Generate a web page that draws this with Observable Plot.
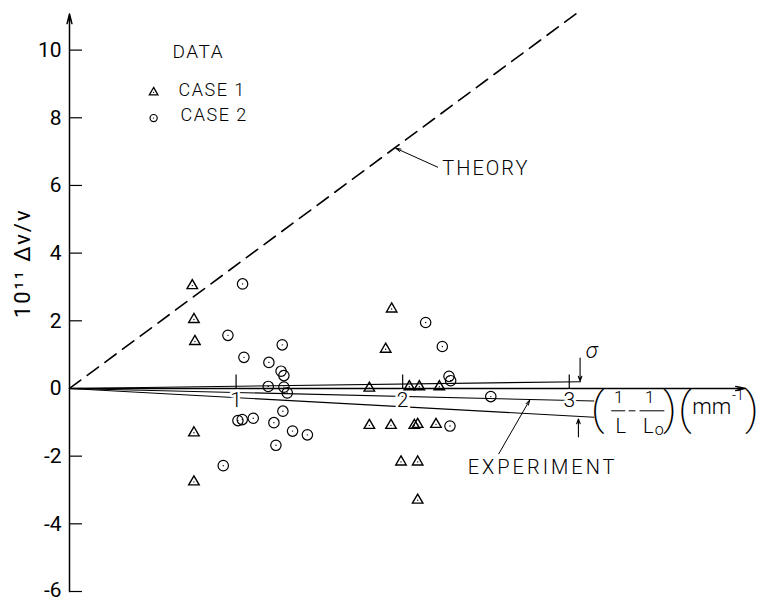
<!DOCTYPE html>
<html><head><meta charset="utf-8">
<script src="https://cdn.jsdelivr.net/npm/d3@7"></script>
<script src="https://cdn.jsdelivr.net/npm/@observablehq/plot@0.6"></script>
<style>body{margin:0;background:#fff}</style>
</head><body><div id="chart"></div>
<script>
// Case 1 (triangles)
const case1X = [0.737, 0.747, 0.753, 0.747, 0.747, 1.934, 1.898, 1.80, 2.04, 2.10, 2.22, 1.80, 1.93, 2.07, 2.09, 2.20, 1.99, 2.09, 2.09];
const case1Y = [3.04, 2.04, 1.39, -1.31, -2.76, 2.35, 1.16, 0.01, 0.05, 0.05, 0.05, -1.09, -1.09, -1.09, -1.06, -1.06, -2.17, -2.17, -3.30];
// Case 2 (circles)
const case2X = [1.039, 0.951, 1.277, 1.047, 1.197, 1.27, 1.287, 1.193, 1.287, 1.307, 1.281, 1.011, 1.037, 1.103, 1.227, 1.339, 1.428, 1.239, 0.923, 2.138, 2.238, 2.278, 2.288, 2.529, 2.284];
const case2Y = [3.09, 1.57, 1.29, 0.92, 0.77, 0.51, 0.38, 0.06, 0.04, -0.13, -0.67, -0.95, -0.92, -0.88, -1.01, -1.26, -1.37, -1.68, -2.28, 1.95, 1.24, 0.36, 0.23, -0.24, -1.11];
// Theory line (two end points)
const theoryX = [0, 3.04];
const theoryY = [0, 11.07];
// Experiment best fit and sigma band (end points; all start at the origin)
const fitNames = ["sigma upper", "experiment", "sigma lower"];
const fitEndX = [3.07, 3.15, 3.15];
const fitEndY = [0.2, -0.37, -0.85];
// Tick labels
const yTicks = [-6, -4, -2, 0, 2, 4, 6, 8, 10];
const xTicks = [1, 2, 3];
const xTickLabels = ["1", "2", "3"];

const case1 = case1X.map((x, i) => ({x, y: case1Y[i]}));
const case2 = case2X.map((x, i) => ({x, y: case2Y[i]}));
const theory = theoryX.map((x, i) => ({x, y: theoryY[i]}));
const fits = fitNames.map((name, i) => ({name, x: fitEndX[i], y: fitEndY[i]}));

const font = "Roboto, 'Open Sans', 'DejaVu Sans', sans-serif";

const chart = Plot.plot({
  width: 758, height: 601,
  marginLeft: 69, marginRight: 6, marginTop: 9, marginBottom: 10,
  x: {domain: [0, 4.1], axis: null},
  y: {domain: [-6, 11.2], axis: null},
  style: {fontFamily: font, fontWeight: 300, background: "white", color: "black", overflow: "visible"},
  marks: [
    // theory
    Plot.line(theory, {x: "x", y: "y", stroke: "black", strokeWidth: 1.6, strokeDasharray: "14,8"}),
    // experiment lines
    Plot.link(fits, {x1: 0, y1: 0, x2: "x", y2: "y", stroke: "black", strokeWidth: 1.1}),
    // axes
    Plot.arrow([0], {x1: 0, y1: -6, x2: 0, y2: 11.07, stroke: "black", strokeWidth: 1.5, headLength: 10, headAngle: 28}),
    Plot.arrow([0], {x1: 0, y1: 0, x2: 4.06, y2: 0, stroke: "black", strokeWidth: 1.3, headLength: 12, headAngle: 24}),
    Plot.ruleY(yTicks, {y: d => d, x1: 0, x2: 0.078, stroke: "black", strokeWidth: 1.2}),
    Plot.axisY(yTicks, {tickSize: 0, tickPadding: 8, fontSize: 21, fontWeight: 400, label: null, tickFormat: d => d < 0 ? "-" + (-d) : String(d)}),
    Plot.ruleX(xTicks, {x: d => d, y1: 0, y2: 0.4, stroke: "black", strokeWidth: 1.2}),
    Plot.text(xTicks, {x: d => d, y: -0.36, text: (d, i) => xTickLabels[i], fontSize: 21, fill: "black", stroke: "white", strokeWidth: 5}),
    // sigma markers
    Plot.arrow([0], {x1: 3.065, y1: 0.9, x2: 3.065, y2: 0.22, stroke: "black", strokeWidth: 1.1, headLength: 7, headAngle: 40}),
    Plot.arrow([0], {x1: 3.055, y1: -1.43, x2: 3.055, y2: -0.9, stroke: "black", strokeWidth: 1.1, headLength: 7, headAngle: 40}),
    Plot.text([0], {x: 3.135, y: 1.12, text: ["σ"], fontSize: 22, fontStyle: "italic", fill: "black"}),
    // x-axis label (1/L - 1/L0)(mm^-1)
    Plot.text(["("], {x: 3.171, y: -0.62, text: d => d, fontSize: 44, fontWeight: 200, fill: "black"}),
    Plot.text(["1"], {x: 3.297, y: -0.28, text: d => d, fontSize: 17, fill: "black"}),
    Plot.text(["L"], {x: 3.309, y: -1.12, text: d => d, fontSize: 20, fill: "black"}),
    Plot.ruleY([-0.66], {y: d => d, x1: 3.255, x2: 3.339, stroke: "black", strokeWidth: 1}),
    Plot.ruleY([-0.66], {y: d => d, x1: 3.36, x2: 3.40, stroke: "black", strokeWidth: 1}),
    Plot.text(["1"], {x: 3.483, y: -0.28, text: d => d, fontSize: 17, fill: "black"}),
    Plot.text(["L"], {x: 3.474, y: -1.12, text: d => d, fontSize: 20, fill: "black"}),
    Plot.text(["o"], {x: 3.54, y: -1.22, text: d => d, fontSize: 16, fill: "black"}),
    Plot.ruleY([-0.66], {y: d => d, x1: 3.425, x2: 3.574, stroke: "black", strokeWidth: 1}),
    Plot.text([")"], {x: 3.604, y: -0.62, text: d => d, fontSize: 44, fontWeight: 200, fill: "black"}),
    Plot.text(["("], {x: 3.694, y: -0.62, text: d => d, fontSize: 44, fontWeight: 200, fill: "black"}),
    Plot.text(["mm"], {x: 3.856, y: -0.55, text: d => d, fontSize: 22, fill: "black"}),
    Plot.text(["-1"], {x: 4.012, y: -0.2, text: d => d, fontSize: 14, fill: "black"}),
    Plot.text([")"], {x: 4.096, y: -0.62, text: d => d, fontSize: 44, fontWeight: 200, fill: "black"}),
    // annotations
    Plot.arrow([0], {x1: 2.21, y1: 6.54, x2: 1.958, y2: 7.1, stroke: "black", strokeWidth: 1, headLength: 8, headAngle: 30}),
    Plot.text(["THEORY"], {x: 2.238, y: 6.49, text: d => d, textAnchor: "start", fontSize: 20, fill: "black"}),
    Plot.arrow([0], {x1: 2.577, y1: -1.93, x2: 2.763, y2: -0.34, stroke: "black", strokeWidth: 1, headLength: 8, headAngle: 30}),
    Plot.text(["EXPERIMENT"], {x: 2.39, y: -2.35, text: d => d, textAnchor: "start", fontSize: 20, fill: "black"}),
    // data points
    Plot.dot(case1, {x: "x", y: "y", symbol: "triangle", r: 3.9, stroke: "black", strokeWidth: 1.4, fill: "none"}),
    Plot.dot(case1, {x: "x", y: "y", r: 0.7, fill: "black"}),
    Plot.dot(case2, {x: "x", y: "y", symbol: "circle", r: 5.2, stroke: "black", strokeWidth: 1.2, fill: "none"}),
    Plot.dot(case2, {x: "x", y: "y", r: 0.7, fill: "black"}),
    // legend
    Plot.text(["DATA"], {x: 0.619, y: 9.96, text: d => d, textAnchor: "start", fontSize: 19, fill: "black"}),
    Plot.dot([0], {x: 0.505, y: 8.75, symbol: "triangle", r: 3.2, stroke: "black", strokeWidth: 1.3, fill: "none"}),
    Plot.dot([0], {x: 0.505, y: 8.75, r: 0.6, fill: "black"}),
    Plot.text(["CASE 1"], {x: 0.655, y: 8.8, text: d => d, textAnchor: "start", fontSize: 18, fill: "black"}),
    Plot.dot([0], {x: 0.505, y: 7.99, symbol: "circle", r: 3.6, stroke: "black", strokeWidth: 1.2, fill: "none"}),
    Plot.dot([0], {x: 0.505, y: 7.99, r: 0.6, fill: "black"}),
    Plot.text(["CASE 2"], {x: 0.667, y: 8.07, text: d => d, textAnchor: "start", fontSize: 18, fill: "black"}),
    // y-axis label
    Plot.text(["10¹¹ Δν/ν"], {x: -0.282, y: 3.7, text: d => d, rotate: -90, fontSize: 22, fontWeight: 400, fill: "black"})
  ]
});

d3.select(chart).selectAll("text").each(function() {
  const t = this.textContent;
  if (t === "THEORY") this.setAttribute("letter-spacing", "2");
  if (t === "EXPERIMENT") this.setAttribute("letter-spacing", "3");
  if (t === "DATA" || t.startsWith("CASE")) this.setAttribute("letter-spacing", "1.5");
  if (t.startsWith("10¹¹")) this.setAttribute("letter-spacing", "2");
  if (t === "-6") this.setAttribute("dy", "-0.05em");
});
document.getElementById("chart").appendChild(chart);
</script>
</body></html>
